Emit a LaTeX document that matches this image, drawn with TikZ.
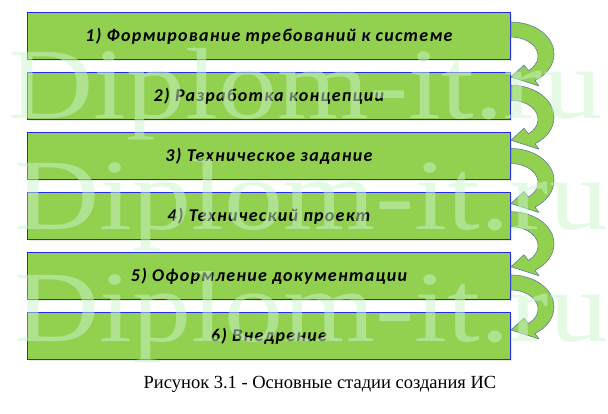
\documentclass[tikz,border=0pt]{standalone}
\usepackage{fontspec}
\setmainfont{Liberation Serif}
\newfontfamily\boxfont{Carlito}[LetterSpace=7]
\usetikzlibrary{calc}
\definecolor{boxgreen}{RGB}{146,208,80}
\definecolor{boxblue}{RGB}{40,40,235}
\definecolor{arrowline}{RGB}{95,125,160}
\definecolor{wmgreen}{RGB}{204,245,204}
\tikzset{
  stagebox/.style={draw=boxblue, line width=0.9pt, fill=boxgreen},
  stageshadow/.style={fill=black!25, opacity=0.35},
  stagetext/.style={font=\boxfont\bfseries\itshape\fontsize{18}{18}\selectfont, text=black, inner sep=0pt},
  turnarrow/.style={fill=boxgreen, draw=arrowline, line width=0.6pt, line join=round},
  watermark/.style={font=\fontsize{101}{101}\selectfont, text=wmgreen, text opacity=0.5, inner sep=0pt, anchor=base west},
}
\begin{document}
\begin{tikzpicture}[x=1pt, y=-1pt]
\useasboundingbox (0,0) rectangle (608,414);
% shadows
\foreach \k in {0,...,5}{
  \fill[stageshadow] (29,{14+60*\k}) rectangle (512,{61+60*\k});
}
% boxes
\foreach \k [count=\n] in {0,...,5}{
  \node[stagebox, minimum width=483pt, minimum height=47pt, inner sep=0pt, anchor=north west] (b\n) at (27,{12+60*\k}) {};
}
\node[stagetext] (t1) at (b1.center) {1) Формирование требований к системе};
\node[stagetext] (t2) at (b2.center) {2) Разработка концепции};
\node[stagetext] (t3) at (b3.center) {3) Техническое задание};
\node[stagetext] (t4) at (b4.center) {4) Технический проект};
\node[stagetext] (t5) at (b5.center) {5) Оформление документации};
\node[stagetext] (t6) at (b6.center) {6) Внедрение};
% curved arrows
\foreach \k in {0,...,4}{
  \pgfmathsetmacro{\yT}{22+63.25*\k}
  \draw[turnarrow] (511,\yT) arc[start angle=-90, end angle=56, x radius=43, y radius=32]
    -- (539,\yT+64) -- (511,\yT+55) -- (524,\yT+43) -- (528.4,\yT+48.6)
    arc[start angle=50, end angle=-90, x radius=27, y radius=19] -- cycle;
}
% watermark
\node[watermark] (w1) at (8,119) {\scalebox{1.17}[1]{Diplom-it.ru}};
\node[watermark] (w2) at (14,230) {\scalebox{1.17}[1]{Diplom-it.ru}};
\node[watermark] (w3) at (14,341) {\scalebox{1.17}[1]{Diplom-it.ru}};
% caption
\node[font=\fontsize{18.5}{20}\selectfont, inner sep=0pt, anchor=base] (cap) at (320,388) {Рисунок 3.1 - Основные стадии создания ИС};
\end{tikzpicture}
\end{document}
